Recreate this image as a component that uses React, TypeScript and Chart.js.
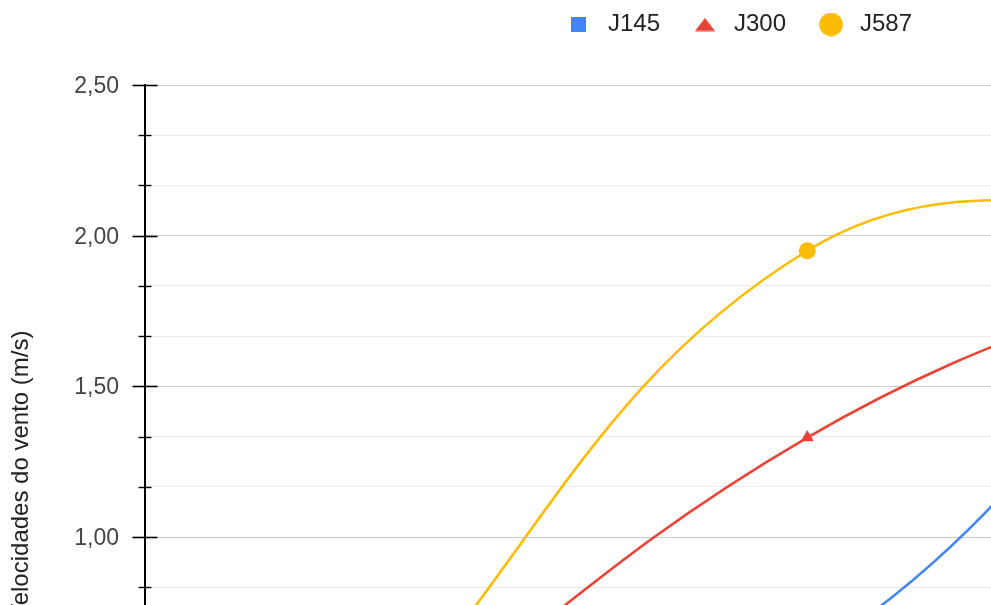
import React, { useEffect, useRef } from 'react';
import { Chart, registerables } from 'chart.js';

Chart.register(...registerables);

// ---- data ----
const categories = ['P1', 'P2', 'P3'];
const seriesNames = ['J145', 'J300', 'J587'];
const j145Values = [0.2, 0.6, 2.06];
const j300Values = [0.26, 1.33, 1.97];
const j587Values = [0.32, 1.95, 2.12];
const yAxisTitle = 'Velocidades do vento (m/s)';
const yMin = -0.09;
const yMax = 2.5;
const majorStep = 0.5;
const minorPerMajor = 3;

// ---- styles ----
const seriesColors = ['#4285f4', '#ea4335', '#fbbc04'];
const FONT = "'Liberation Sans', Arial, Helvetica, sans-serif";
const CANVAS_W = 1478;
const CANVAS_H = 930;

const isMajor = (v: number) => Math.abs(v / majorStep - Math.round(v / majorStep)) < 1e-6;

function makeIcon(kind: string, color: string): HTMLCanvasElement {
  const c = document.createElement('canvas');
  const ctx = c.getContext('2d') as CanvasRenderingContext2D;
  if (kind === 'square') {
    c.width = 15; c.height = 15;
    ctx.fillStyle = color;
    ctx.fillRect(0, 0, 15, 15);
  } else if (kind === 'triangle') {
    c.width = 20; c.height = 14;
    ctx.fillStyle = color;
    ctx.beginPath();
    ctx.moveTo(10, 0.5);
    ctx.lineTo(20, 13.5);
    ctx.lineTo(0, 13.5);
    ctx.closePath();
    ctx.fill();
  } else {
    c.width = 24; c.height = 24;
    ctx.fillStyle = color;
    ctx.beginPath();
    ctx.arc(12, 12, 11.8, 0, Math.PI * 2);
    ctx.fill();
  }
  return c;
}

const axisTicksPlugin = {
  id: 'axisTicks',
  afterDraw(chart: any) {
    const scale = chart.scales.y;
    const ctx = chart.ctx;
    const x = scale.right;
    ctx.save();
    ctx.strokeStyle = '#000000';
    scale.ticks.forEach((t: any, i: number) => {
      if (t.value < 0) return;
      const y = Math.round(scale.getPixelForTick(i)) + 0.5;
      const major = isMajor(t.value);
      const len = major ? 12.5 : 6.5;
      ctx.lineWidth = major ? 1.6 : 1.4;
      ctx.beginPath();
      ctx.moveTo(x - len, y);
      ctx.lineTo(x + len, y);
      ctx.stroke();
    });
    ctx.restore();
  },
};

export default function App() {
  const canvasRef = useRef<HTMLCanvasElement | null>(null);

  useEffect(() => {
    const canvas = canvasRef.current;
    if (!canvas) return;
    const icons = [
      makeIcon('square', seriesColors[0]),
      makeIcon('triangle', seriesColors[1]),
      makeIcon('circle', seriesColors[2]),
    ];
    const values = [j145Values, j300Values, j587Values];
    const pointStyles = ['rect', 'triangle', 'circle'];
    const pointRadii = [7, 7.5, 8.5];

    const chart = new Chart(canvas, {
      type: 'line',
      data: {
        labels: categories,
        datasets: seriesNames.map((name, i) => ({
          label: name,
          data: values[i],
          borderColor: seriesColors[i],
          backgroundColor: seriesColors[i],
          borderWidth: 2.6,
          tension: 0.4,
          pointStyle: pointStyles[i],
          pointRadius: pointRadii[i],
          pointBorderWidth: 0,
          pointBackgroundColor: seriesColors[i],
          fill: false,
          order: 3 - i,
        })),
      },
      options: {
        responsive: false,
        animation: false,
        devicePixelRatio: window.devicePixelRatio || 1,
        layout: { padding: { top: -15.5, left: 0, right: 4, bottom: 64.5 } },
        plugins: {
          legend: {
            display: true,
            position: 'top',
            weight: 3000,
            labels: {
              usePointStyle: true,
              pointStyleWidth: 34,
              padding: 28,
              color: '#222222',
              font: { family: FONT, size: 24 },
              generateLabels: (ch: any) =>
                ch.data.datasets.map((ds: any, i: number) => ({
                  text: ds.label,
                  fillStyle: seriesColors[i],
                  strokeStyle: seriesColors[i],
                  lineWidth: 0,
                  pointStyle: icons[i],
                  hidden: false,
                  datasetIndex: i,
                  fontColor: '#222222',
                })),
            },
          },
          title: {
            display: true,
            text: ' ',
            font: { family: FONT, size: 10 },
            padding: { top: 0, bottom: 26.5 },
          },
          tooltip: { enabled: false },
        },
        scales: {
          x: {
            type: 'category',
            display: false,
            offset: true,
            grid: { display: false },
          },
          y: {
            type: 'linear',
            min: yMin,
            max: yMax,
            afterFit: (scale: any) => {
              scale.width = 145;
            },
            border: { display: true, color: '#000000', width: 2 },
            grid: {
              drawTicks: true,
              tickLength: 12,
              tickColor: 'rgba(0,0,0,0)',
              lineWidth: 1,
              color: (c: any) =>
                c.tick && c.tick.value < 0
                  ? 'rgba(0,0,0,0)'
                  : c.tick && isMajor(c.tick.value)
                  ? '#cccccc'
                  : '#ebebeb',
            },
            ticks: {
              stepSize: majorStep / minorPerMajor,
              includeBounds: false,
              padding: 14,
              labelOffset: 1.5,
              color: '#444444',
              font: { family: FONT, size: 23 },
              callback: (value: any) =>
                Number(value) >= 0 && isMajor(Number(value))
                  ? Number(value).toFixed(2).replace('.', ',')
                  : '',
            },
            title: {
              display: true,
              text: yAxisTitle,
              color: '#222222',
              font: { family: FONT, size: 24 },
              padding: { top: 7, bottom: 0 },
            },
          },
        },
      },
      plugins: [axisTicksPlugin],
    } as any);

    return () => chart.destroy();
  }, []);

  return (
    <div
      style={{
        position: 'fixed',
        left: 0,
        top: 0,
        width: 991,
        height: 605,
        overflow: 'hidden',
        background: '#ffffff',
      }}
    >
      <canvas ref={canvasRef} width={CANVAS_W} height={CANVAS_H} style={{ display: 'block' }} />
    </div>
  );
}
